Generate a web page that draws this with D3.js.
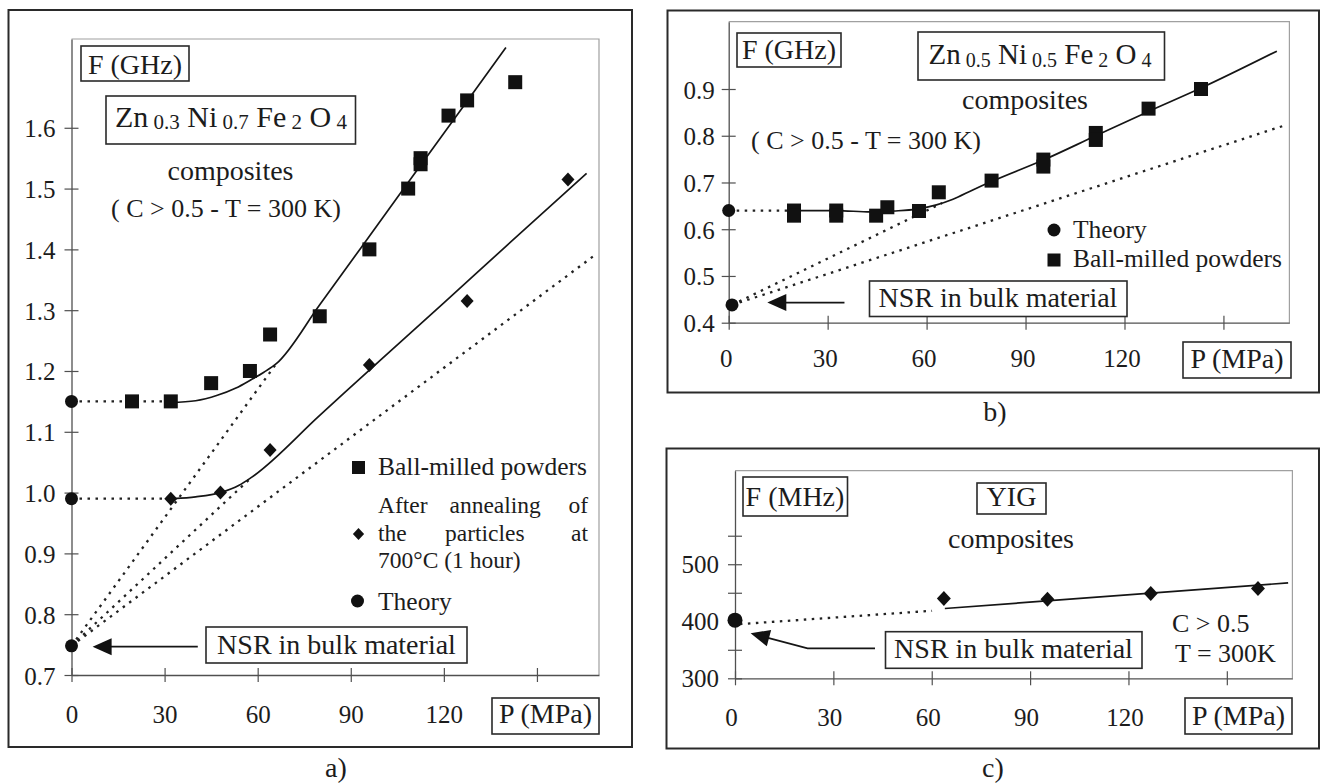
<!DOCTYPE html>
<html>
<head>
<meta charset="utf-8">
<script src="https://cdn.jsdelivr.net/npm/d3@7"></script>
<style>
  html, body { margin: 0; padding: 0; background: #fff; }
</style>
</head>
<body>
<svg id="chart" width="1321" height="784"></svg>
<script>
// ---------- values ----------
const pTicks = [0, 30, 60, 90, 120, 150];
const pTickLabels = ["0", "30", "60", "90", "120", ""];

// a) Zn0.3 Ni0.7 Fe2O4
const aTicks = [0.7, 0.8, 0.9, 1.0, 1.1, 1.2, 1.3, 1.4, 1.5, 1.6];
const aTickLabels = ["0.7", "0.8", "0.9", "1.0", "1.1", "1.2", "1.3", "1.4", "1.5", "1.6"];
const aMilledP = [19.5, 32, 45, 57.5, 64, 80, 96, 108.5, 112.5, 112.5, 121.5, 127.5, 143];
const aMilledF = [1.15, 1.15, 1.18, 1.20, 1.26, 1.29, 1.40, 1.50, 1.55, 1.54, 1.62, 1.645, 1.675];
const aAnnealP = [32, 48, 64, 96, 127.5, 160];
const aAnnealF = [0.99, 1.00, 1.07, 1.21, 1.315, 1.515];
const aTheoryP = [0, 0, 0];
const aTheoryF = [1.15, 0.99, 0.748];
const aFitMilledP = [32, 40, 47, 53, 58, 62, 66, 80, 100, 120, 140];
const aFitMilledF = [1.148, 1.151, 1.160, 1.172, 1.186, 1.198, 1.212, 1.309, 1.450, 1.591, 1.732];
const aFitAnnealP = [33, 40, 48, 54, 58, 80, 100, 120, 140, 166];
const aFitAnnealF = [0.99, 0.993, 1.0, 1.012, 1.025, 1.127, 1.220, 1.312, 1.405, 1.525];
const aGuides = [[0, 1.15, 32, 1.15], [0, 0.99, 32, 0.99], [0, 0.748, 66, 1.212], [0, 0.748, 58, 1.025], [0, 0.748, 168, 1.388]];

// b) Zn0.5 Ni0.5 Fe2O4
const bTicks = [0.4, 0.5, 0.6, 0.7, 0.8, 0.9];
const bTickLabels = ["0.4", "0.5", "0.6", "0.7", "0.8", "0.9"];
const bMilledP = [19.8, 19.8, 32.6, 32.6, 44.7, 48.1, 57.7, 63.7, 79.7, 95.4, 95.4, 111.3, 111.3, 127.3, 143.2];
const bMilledF = [0.64, 0.629, 0.64, 0.629, 0.629, 0.647, 0.639, 0.679, 0.704, 0.749, 0.734, 0.806, 0.791, 0.858, 0.90];
const bTheoryP = [0, 1];
const bTheoryF = [0.64, 0.438];
const bFitP = [19.8, 32.6, 43, 50, 57, 63, 68, 74, 80, 95.4, 111.3, 127.3, 143.2, 166.2];
const bFitF = [0.64, 0.64, 0.637, 0.639, 0.643, 0.652, 0.664, 0.684, 0.703, 0.748, 0.800, 0.852, 0.902, 0.981];
const bGuides = [[0, 0.64, 19.8, 0.64], [1, 0.438, 64.7, 0.656], [1, 0.438, 169.4, 0.824]];

// c) YIG
const cTicks = [300, 350, 400, 450, 500, 550];
const cTickLabels = ["300", "", "400", "", "500", ""];
const cAnnealP = [63.7, 95.3, 126.8, 159.5];
const cAnnealF = [440, 438.8, 448.7, 457.4];
const cTheoryP = [0];
const cTheoryF = [402];
const cFitP = [64, 168.7];
const cFitF = [422.4, 467.3];
const cGuides = [[1.5, 395, 60.1, 418.4]];

// ---------- drawing ----------
const FONT = '"Liberation Serif", "Times New Roman", Times, serif';
const INK = "#1c1c1c";
const svg = d3.select("#chart");
svg.append("rect").attr("width", 1321).attr("height", 784).attr("fill", "#fff");

function frame(g, x0, y0, x1, y1) {
  g.append("rect").attr("x", x0).attr("y", y0).attr("width", x1 - x0).attr("height", y1 - y0)
    .attr("fill", "none").attr("stroke", "#2a2a2a").attr("stroke-width", 2);
}

function txt(g, x, y, s, size, anchor) {
  return g.append("text").attr("x", x).attr("y", y).text(s)
    .attr("font-family", FONT).attr("font-size", size).attr("fill", INK)
    .attr("text-anchor", anchor || "start");
}

function box(g, x0, y0, x1, y1) {
  g.append("rect").attr("x", x0).attr("y", y0).attr("width", x1 - x0).attr("height", y1 - y0)
    .attr("fill", "#fff").attr("stroke", "#2a2a2a").attr("stroke-width", 1.6);
}

function formula(g, cx, base, parts, big, small, drop) {
  const t = g.append("text").attr("x", cx).attr("y", base).attr("text-anchor", "middle")
    .attr("font-family", FONT).attr("fill", INK);
  parts.forEach((p, i) => {
    const sub = i % 2 === 1;
    t.append("tspan").text((i ? " " : "") + p)
      .attr("font-size", sub ? small : big)
      .attr("dy", i === 0 ? 0 : (sub ? drop : -drop));
  });
}

function axes(g, x, y, yTicks, yLabels, o) {
  const [x0, x1] = x.range();
  const [y0, y1] = y.range();
  g.append("path").attr("d", `M${x0},${y1}H${x1}V${y0}`)
    .attr("fill", "none").attr("stroke", "#a0a0a0").attr("stroke-width", 1.2);

  const xa = g.append("g").attr("transform", `translate(0,${y0})`)
    .call(d3.axisBottom(x).tickValues(pTicks).tickFormat((d, i) => pTickLabels[i]).tickSize(7).tickSizeOuter(0));
  xa.selectAll(".tick line").attr("y1", -7);
  xa.selectAll(".tick text").attr("dy", null).attr("y", o.xBase).attr("dx", o.xDx);

  const ya = g.append("g").attr("transform", `translate(${x0},0)`)
    .call(d3.axisLeft(y).tickValues(yTicks).tickFormat((d, i) => yLabels[i]).tickSize(7).tickSizeOuter(0));
  ya.selectAll(".tick line").attr("x1", 7);
  ya.selectAll(".tick text").attr("dy", null).attr("x", -o.yGap).attr("y", o.yBase);

  [xa, ya].forEach(a => {
    a.attr("font-family", FONT).attr("font-size", 25);
    a.select(".domain").attr("stroke", "#505050").attr("stroke-width", 1.3);
    a.selectAll(".tick line").attr("stroke", "#505050").attr("stroke-width", 1.2);
    a.selectAll(".tick text").attr("fill", INK);
  });
}

function guides(g, x, y, list) {
  list.forEach(d => {
    g.append("line").attr("x1", x(d[0])).attr("y1", y(d[1])).attr("x2", x(d[2])).attr("y2", y(d[3]))
      .attr("stroke", "#222").attr("stroke-width", 2.3).attr("stroke-dasharray", "2.5,5.5")
      .attr("stroke-linecap", "butt");
  });
}

function fit(g, x, y, P, F, curve) {
  const line = d3.line().x(d => x(d[0])).y(d => y(d[1])).curve(curve || d3.curveMonotoneX);
  g.append("path").attr("d", line(P.map((p, i) => [p, F[i]])))
    .attr("fill", "none").attr("stroke", "#151515").attr("stroke-width", 1.7);
}

function squares(g, x, y, P, F, s) {
  g.selectAll(null).data(P.map((p, i) => [p, F[i]])).join("rect")
    .attr("x", d => x(d[0]) - s / 2).attr("y", d => y(d[1]) - s / 2)
    .attr("width", s).attr("height", s).attr("fill", "#111");
}

function diamonds(g, x, y, P, F, h) {
  g.selectAll(null).data(P.map((p, i) => [p, F[i]])).join("path")
    .attr("d", d => `M${x(d[0])},${y(d[1]) - h}l${h * 0.93},${h}l${-h * 0.93},${h}l${-h * 0.93},${-h}Z`)
    .attr("fill", "#111");
}

function dots(g, x, y, P, F, r) {
  g.selectAll(null).data(P.map((p, i) => [p, F[i]])).join("circle")
    .attr("cx", d => x(d[0])).attr("cy", d => y(d[1])).attr("r", r).attr("fill", "#111");
}

function arrow(g, pts) {
  // pts: pixel points from tail to tip
  const n = pts.length;
  const [tx, ty] = pts[n - 1], [px, py] = pts[n - 2];
  const len = Math.hypot(tx - px, ty - py), ux = (tx - px) / len, uy = (ty - py) / len;
  const L = 19, H = 8.5;
  const bx = tx - ux * L, by = ty - uy * L;
  const body = pts.slice(0, n - 1).concat([[bx + ux * 2, by + uy * 2]]);
  g.append("path").attr("d", d3.line()(body)).attr("fill", "none").attr("stroke", "#151515").attr("stroke-width", 1.7);
  g.append("path")
    .attr("d", `M${tx},${ty}L${bx - uy * H},${by + ux * H}L${bx + uy * H},${by - ux * H}Z`)
    .attr("fill", "#111");
}

// ---------- panel a ----------
{
  const g = svg.append("g");
  frame(g, 8.5, 10, 632, 747);
  const x = d3.scaleLinear().domain([0, 170]).range([71.5, 599]);
  const y = d3.scaleLinear().domain([0.7, 1.746]).range([675, 39]);
  axes(g, x, y, aTicks, aTickLabels, { xBase: 48, xDx: 0, yGap: 16, yBase: 9 });

  guides(g, x, y, aGuides);
  fit(g, x, y, aFitMilledP, aFitMilledF);
  fit(g, x, y, aFitAnnealP, aFitAnnealF);
  squares(g, x, y, aMilledP, aMilledF, 14);
  diamonds(g, x, y, aAnnealP, aAnnealF, 7);
  dots(g, x, y, aTheoryP, aTheoryF, 6.5);

  box(g, 81, 46, 189, 81);
  txt(g, 135, 74, "F (GHz)", 28, "middle");
  box(g, 106, 96, 355.5, 144);
  formula(g, 231, 127, ["Zn", "0.3", "Ni", "0.7", "Fe", "2", "O", "4"], 30, 21, 2);
  txt(g, 230.5, 180, "composites", 28, "middle");
  txt(g, 226, 216.5, "( C > 0.5 - T = 300 K)", 26, "middle");

  // legend
  g.append("rect").attr("x", 352).attr("y", 461).attr("width", 13).attr("height", 13).attr("fill", "#111");
  txt(g, 378, 475, "Ball-milled powders", 25.5);
  // justified three-line entry, kept as one text block
  const ann = g.append("text").attr("font-family", FONT).attr("font-size", 23.5).attr("fill", INK);
  [
    [378, 513, "After", "start"], [449.5, 513, "annealing", "start"], [588, 513, "of", "end"],
    [378, 540.5, "the", "start"], [445, 540.5, "particles", "start"], [588, 540.5, "at", "end"],
    [378, 568, "700°C (1 hour)", "start"]
  ].forEach(w => ann.append("tspan").attr("x", w[0]).attr("y", w[1]).attr("text-anchor", w[3]).text(w[2]));
  g.append("path").attr("d", "M358.5,528l5.6,6l-5.6,6l-5.6,-6Z").attr("fill", "#111");
  g.append("circle").attr("cx", 357.5).attr("cy", 601).attr("r", 6.5).attr("fill", "#111");
  txt(g, 378, 610, "Theory", 25.5);

  arrow(g, [[x(40.7), y(0.7466)], [x(6.8), y(0.7466)]]);
  box(g, 206, 627, 467, 663);
  txt(g, 336.5, 654, "NSR in bulk material", 28, "middle");
  box(g, 492, 698, 599, 734);
  txt(g, 545.5, 723, "P (MPa)", 28, "middle");

  txt(g, 336, 777, "a)", 28, "middle");
}

// ---------- panel b ----------
{
  const g = svg.append("g");
  frame(g, 667.5, 10.5, 1319, 392.5);
  const x = d3.scaleLinear().domain([0, 170]).range([728.7, 1289.4]);
  const y = d3.scaleLinear().domain([0.4, 1.044]).range([322.7, 21.7]);
  axes(g, x, y, bTicks, bTickLabels, { xBase: 44, xDx: -3, yGap: 14, yBase: 9 });

  guides(g, x, y, bGuides);
  fit(g, x, y, bFitP, bFitF);
  squares(g, x, y, bMilledP, bMilledF, 14);
  dots(g, x, y, bTheoryP, bTheoryF, 6.5);

  box(g, 737, 33, 841, 67);
  txt(g, 789, 59, "F (GHz)", 28, "middle");
  box(g, 918, 32, 1164.5, 80);
  formula(g, 1040, 64, ["Zn", "0.5", "Ni", "0.5", "Fe", "2", "O", "4"], 29, 20, 2.5);
  txt(g, 1025, 108.5, "composites", 28, "middle");
  txt(g, 866, 148.5, "( C > 0.5 - T = 300 K)", 26, "middle");

  g.append("circle").attr("cx", 1054).attr("cy", 230).attr("r", 6.5).attr("fill", "#111");
  txt(g, 1073, 237.5, "Theory", 25.5);
  g.append("rect").attr("x", 1047.5).attr("y", 253.5).attr("width", 13).attr("height", 13).attr("fill", "#111");
  txt(g, 1073, 267, "Ball-milled powders", 25.5);

  arrow(g, [[x(35.1), y(0.443)], [x(11.7), y(0.443)]]);
  box(g, 869.5, 281, 1127, 316.5);
  txt(g, 998, 307, "NSR in bulk material", 28, "middle");
  box(g, 1183, 342, 1291, 378);
  txt(g, 1237, 368, "P (MPa)", 28, "middle");

  txt(g, 995, 421, "b)", 28, "middle");
}

// ---------- panel c ----------
{
  const g = svg.append("g");
  frame(g, 666.5, 448.5, 1319, 748.5);
  const x = d3.scaleLinear().domain([0, 170]).range([735, 1292.4]);
  const y = d3.scaleLinear().domain([300, 664]).range([678.3, 470.7]);
  axes(g, x, y, cTicks, cTickLabels, { xBase: 48, xDx: -4, yGap: 16, yBase: 8 });

  guides(g, x, y, cGuides);
  fit(g, x, y, cFitP, cFitF, d3.curveLinear);
  diamonds(g, x, y, cAnnealP, cAnnealF, 7.5);
  dots(g, x, y, cTheoryP, cTheoryF, 7.5);

  box(g, 743, 477, 847.5, 516);
  txt(g, 795, 506, "F (MHz)", 28, "middle");
  box(g, 977, 483, 1046, 514);
  txt(g, 1011.5, 506, "YIG", 28, "middle");
  txt(g, 1011, 548, "composites", 28, "middle");
  txt(g, 1172, 632, "C > 0.5", 26);
  txt(g, 1175, 662, "T = 300K", 26);

  arrow(g, [[875, 648.3], [807.6, 648.3], [750.6, 633.3]]);
  box(g, 885.5, 631.7, 1142, 668.3);
  txt(g, 1013.5, 658, "NSR in bulk material", 28, "middle");
  box(g, 1185, 698, 1292, 734);
  txt(g, 1238.5, 724.5, "P (MPa)", 28, "middle");

  txt(g, 993, 777, "c)", 28, "middle");
}
</script>
</body>
</html>
